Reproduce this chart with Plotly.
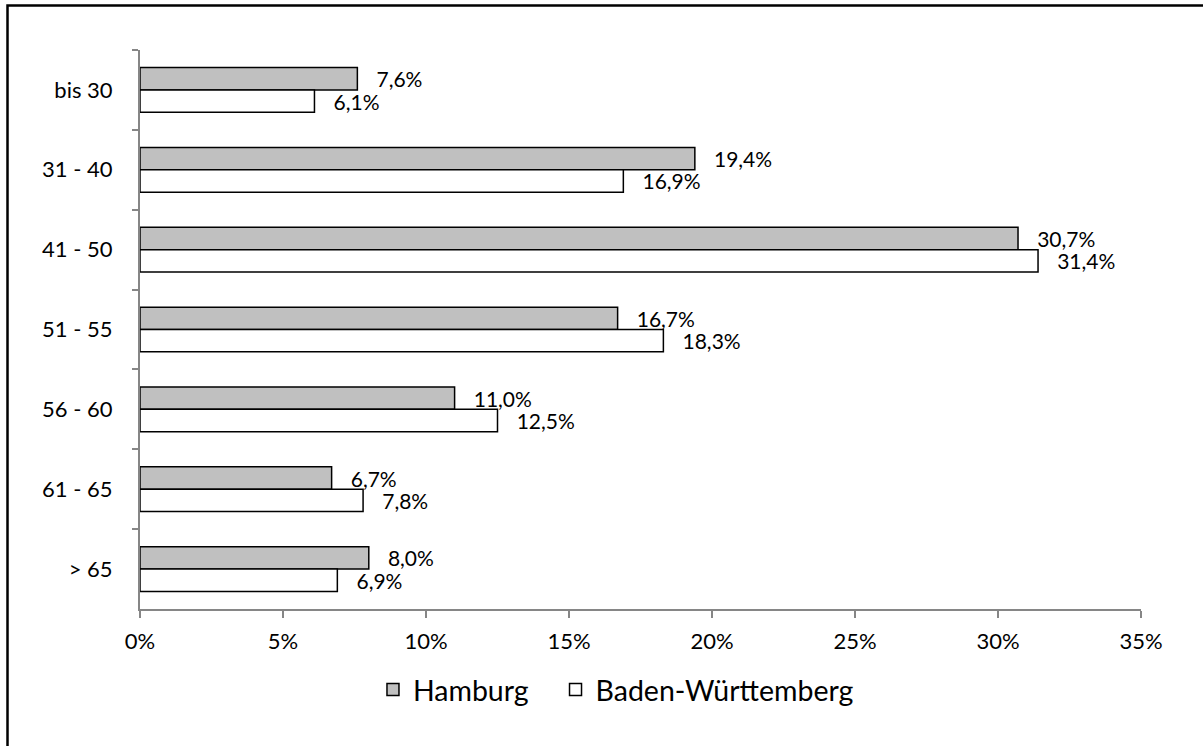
import plotly.graph_objects as go

categories = ["bis 30", "31 - 40", "41 - 50", "51 - 55", "56 - 60", "61 - 65", "> 65"]
hamburg = [7.6, 19.4, 30.7, 16.7, 11.0, 6.7, 8.0]
bw = [6.1, 16.9, 31.4, 18.3, 12.5, 7.8, 6.9]
x_ticks = [0, 5, 10, 15, 20, 25, 30, 35]
x_tick_labels = [f"{t}%" for t in x_ticks]
series_names = ["Hamburg", "Baden-Württemberg"]


def fmt(v):
    return "   " + f"{v:.1f}".replace(".", ",") + "%"


FONT = "Lato, 'Open Sans', sans-serif"
TICK_SIZE = 22
LABEL_SIZE = 21

fig = go.Figure()
fig.add_trace(go.Bar(
    y=categories, x=hamburg, orientation="h", name=series_names[0] + "\u00a0\u00a0\u00a0",
    marker=dict(color="#C0C0C0", line=dict(color="black", width=1.5)),
    text=[fmt(v) for v in hamburg], textposition="outside", cliponaxis=False,
    constraintext="none",
    textfont=dict(family=FONT, size=LABEL_SIZE, color="black"),
))
fig.add_trace(go.Bar(
    y=categories, x=bw, orientation="h", name=series_names[1],
    marker=dict(color="white", line=dict(color="black", width=1.5)),
    text=[fmt(v) for v in bw], textposition="outside", cliponaxis=False,
    constraintext="none",
    textfont=dict(family=FONT, size=LABEL_SIZE, color="black"),
))

fig.update_layout(
    width=1203, height=746,
    margin=dict(l=140, r=62, t=50, b=137),
    paper_bgcolor="white", plot_bgcolor="white",
    barmode="group", bargap=0.44, bargroupgap=0,
    font=dict(family=FONT, size=TICK_SIZE, color="black"),
    showlegend=True,
    legend=dict(orientation="h", x=0.4755, xanchor="center", y=-0.145, yanchor="middle",
                font=dict(family=FONT, size=28.5, color="black"),
                traceorder="normal"),
)
fig.update_xaxes(
    range=[0, 35], tickvals=x_ticks, ticktext=x_tick_labels,
    showgrid=False, zeroline=False, showline=True, linecolor="#868686", linewidth=2,
    ticks="outside", ticklen=7, tickcolor="#868686", tickwidth=2, ticklabelstandoff=5,
    tickfont=dict(family=FONT, size=TICK_SIZE, color="black"),
)
fig.update_yaxes(
    autorange="reversed", showgrid=False, zeroline=False,
    showline=True, linecolor="#868686", linewidth=2,
    ticks="outside", ticklen=6, tickcolor="#868686", tickwidth=2, tickson="boundaries",
    ticklabelstandoff=21,
    tickfont=dict(family=FONT, size=TICK_SIZE, color="black"),
)
# outer frame (left and top edges visible; right/bottom lie beyond the image)
fig.add_shape(type="rect", xref="paper", yref="paper",
              x0=(7.5 - 140) / 1001, x1=1.2, y0=-0.3, y1=1 + (50 - 5.5) / 559,
              line=dict(color="black", width=2.5), layer="below")

fig.write_html("out.html", config={"displayModeBar": False},
               post_script="document.body.style.margin='0';")
